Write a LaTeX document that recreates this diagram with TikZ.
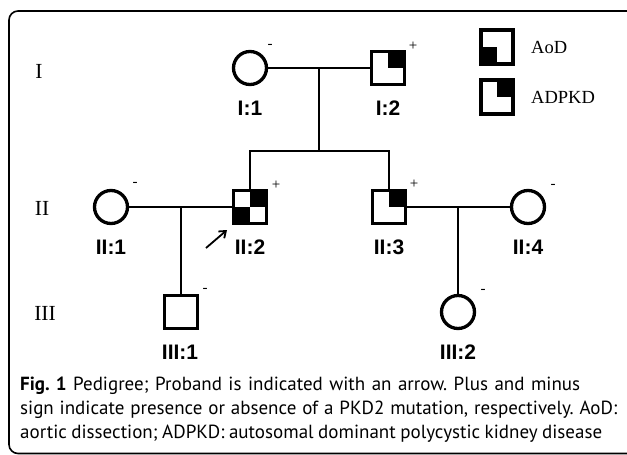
\documentclass[tikz,border=0pt]{standalone}
\usepackage{fontspec}
\setmainfont{Liberation Serif}
\newfontfamily\labfont{Liberation Sans}
\newfontfamily\capfont{PT Sans}
\usetikzlibrary{arrows.meta}
\frenchspacing
\begin{document}
\begin{tikzpicture}[x=1pt,y=-1pt,
  sym/.style={draw, line width=3.3pt, minimum size=33pt, inner sep=0pt},
  sq/.style={sym, rectangle},
  ci/.style={sym, circle},
  leg/.style={draw, rectangle, line width=4.2pt, minimum width=32pt, minimum height=34pt, inner sep=0pt},
  conn/.style={line width=1.9pt},
  idlab/.style={font=\labfont\bfseries\fontsize{21}{21}\selectfont, inner sep=0pt},
  gen/.style={font=\fontsize{21.5}{21.5}\selectfont, inner sep=0pt},
  sign/.style={font=\fontsize{15}{15}\selectfont, inner sep=0pt},
  legtxt/.style={font=\fontsize{18.5}{18.5}\selectfont, inner sep=0pt, anchor=west},
  captxt/.style={font=\capfont\fontsize{19}{19}\selectfont, inner sep=0pt, anchor=base west}
]
\useasboundingbox (0,0) rectangle (627,455);
\clip (0,0) rectangle (627,455);
\fill[white] (0,0) rectangle (627,455);
\draw[line width=1.6pt, rounded corners=9pt] (9,11) rectangle (660,453.5);

% generation numerals
\node[gen] (gI) at (39,71) {I};
\node[gen] (gII) at (42,208) {II};
\node[gen] (gIII) at (45,313) {III};

% individuals
\node[ci] (I1) at (250,68) {};
\node[sq] (I2) at (388,68) {};
\node[ci] (II1) at (111,207) {};
\node[sq] (II2) at (250,207) {};
\node[sq] (II3) at (389,207) {};
\node[ci] (II4) at (528,207) {};
\node[sq] (III1) at (181,312) {};
\node[ci] (III2) at (458,312) {};

% affected quadrants
\fill (I2.center) rectangle (I2.north east);
\fill (II2.center) rectangle (II2.north east);
\fill (II2.center) rectangle (II2.south west);
\fill (II3.center) rectangle (II3.north east);

% connectors
\coordinate (m1) at (319,68);
\coordinate (s1) at (319,151);
\coordinate (m2) at (181,207);
\coordinate (m3) at (458,207);
\draw[conn] (I1.east) -- (I2.west);
\draw[conn] (m1) -- (s1);
\draw[conn] (II2.north) |- (s1) -| (II3.north);
\draw[conn] (II1.east) -- (II2.west);
\draw[conn] (m2) -- (III1.north);
\draw[conn] (II3.east) -- (II4.west);
\draw[conn] (m3) -- (III2.north);

% proband arrow
\coordinate (pa) at (206,248);
\coordinate (pb) at (227,230);
\draw[line width=1.8pt, -{Straight Barb[length=6pt,width=9pt]}] (pa) -- (pb);

% labels
\node[idlab] (lI1) at (250,108) {I:1};
\node[idlab] (lI2) at (388,108) {I:2};
\node[idlab] (lII1) at (111,247) {II:1};
\node[idlab] (lII2) at (250,247) {II:2};
\node[idlab] (lII3) at (389,247) {II:3};
\node[idlab] (lII4) at (528,247) {II:4};
\node[idlab] (lIII1) at (180,352) {III:1};
\node[idlab] (lIII2) at (458,352) {III:2};

% signs
\node[sign] (sI1) at (270,46) {-};
\node[sign] (sI2) at (413,46) {+};
\node[sign] (sII1) at (135,184) {-};
\node[sign] (sII2) at (276,185) {+};
\node[sign] (sII3) at (414,184) {+};
\node[sign] (sII4) at (553,186) {-};
\node[sign] (sIII1) at (205,290) {-};
\node[sign] (sIII2) at (483,291) {-};

% legend
\node[leg] (LA) at (497,47) {};
\fill (LA.center) rectangle (LA.south west);
\node[leg] (LB) at (497,97) {};
\fill (LB.center) rectangle (LB.north east);
\node[legtxt] (tA) at (531,47) {AoD};
\node[legtxt] (tB) at (531,97) {ADPKD};

% caption
\node[captxt] (cap1) at (20,390) {\makebox[560pt][s]{\textbf{Fig. 1} Pedigree; Proband is indicated with an arrow. Plus and minus}};
\node[captxt] (cap2) at (20,414) {\makebox[597pt][s]{sign indicate presence or absence of a PKD2 mutation, respectively. AoD:}};
\node[captxt] (cap3) at (20,438) {\makebox[582pt][s]{aortic dissection; ADPKD: autosomal dominant polycystic kidney disease}};
\end{tikzpicture}
\end{document}
